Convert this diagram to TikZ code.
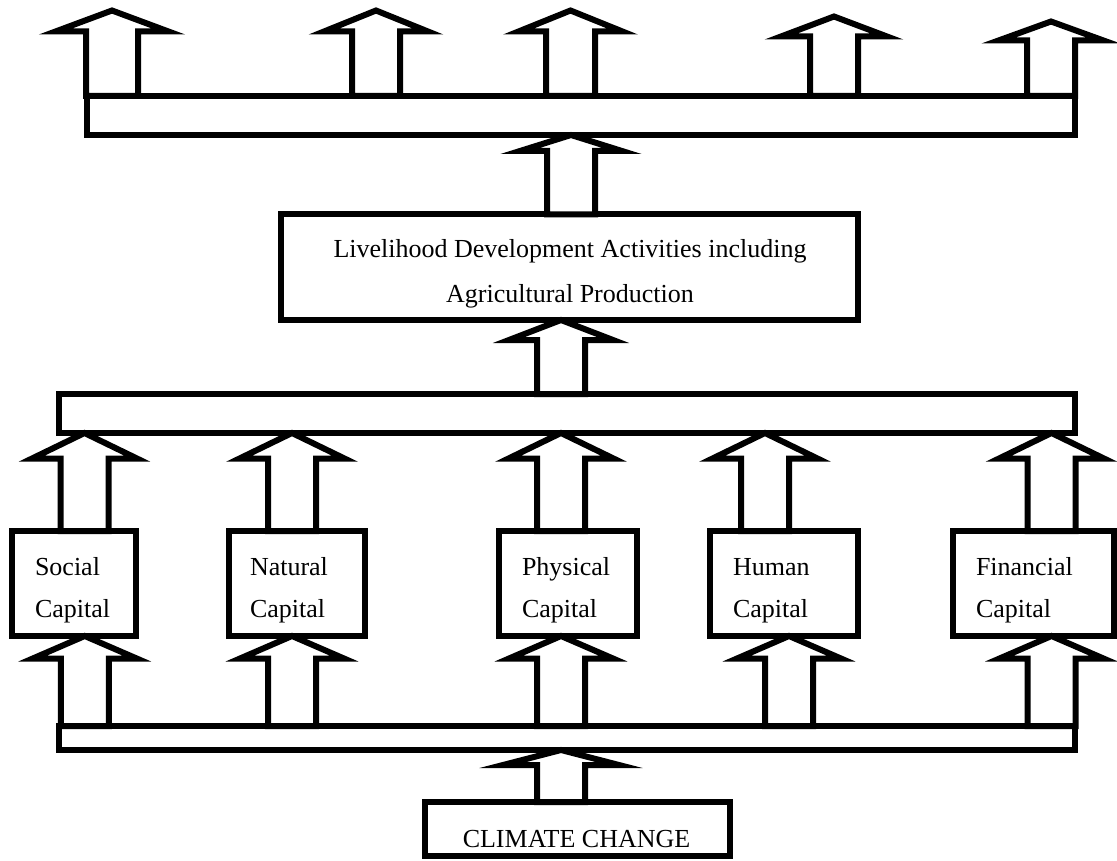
\documentclass[tikz,border=0pt]{standalone}
\usepackage{fontspec}
\setmainfont{Liberation Serif}
\usetikzlibrary{calc}
\tikzset{
  box/.style={draw=black, line width=6pt, inner sep=0pt, outer sep=0pt, fill=white},
  txt/.style={inner sep=0pt, outer sep=0pt, font=\fontsize{26}{30}\selectfont},
  blockarrow/.style={draw=black, fill=white, line width=6pt, line join=miter, miter limit=20}
}
% #1 tip, #2 shaft bottom, #3 head half-width, #4 head height, #5 shaft half-width
\newcommand{\blockup}[5]{%
  \draw[blockarrow] let \p1=#1, \p2=#2 in
    (\x1-#5pt,\y2) -- (\x1-#5pt,\y1-#4pt) -- (\x1-#3pt,\y1-#4pt) -- (\x1,\y1)
    -- (\x1+#3pt,\y1-#4pt) -- (\x1+#5pt,\y1-#4pt) -- (\x1+#5pt,\y2) -- cycle;}
\begin{document}
\begin{tikzpicture}[x=1pt,y=-1pt]
\useasboundingbox[fill=white] (0,0) rectangle (1117,861);
% bars and boxes
\node[box, minimum width=988.5pt, minimum height=39pt] (topbar) at (580.75,115.5) {};
\node[box, minimum width=577pt, minimum height=105.5pt] (liv) at (569.5,267.25) {};
\node[box, minimum width=1016pt, minimum height=39pt] (midbar) at (567,413.5) {};
\node[box, minimum width=124.5pt, minimum height=105pt] (social) at (73.75,583.5) {};
\node[box, minimum width=136pt, minimum height=105pt] (natural) at (297,583.5) {};
\node[box, minimum width=137.5pt, minimum height=105pt] (physical) at (567.75,583.5) {};
\node[box, minimum width=147.5pt, minimum height=105pt] (human) at (783.75,583.5) {};
\node[box, minimum width=161pt, minimum height=105pt] (financial) at (1033,583.5) {};
\node[box, minimum width=1016pt, minimum height=24pt] (lowbar) at (567,738) {};
\node[box, minimum width=304.5pt, minimum height=54pt] (climate) at (577.25,829) {};
% texts
\node[txt, anchor=base] (livA) at (570,258) {Livelihood Development Activities including};
\node[txt, anchor=base] (livB) at (570,302) {Agricultural Production};
\node[txt, anchor=base west] (socA) at (35,575) {Social};
\node[txt, anchor=base west] (socB) at (35,617) {Capital};
\node[txt, anchor=base west] (natA) at (250,575) {Natural};
\node[txt, anchor=base west] (natB) at (250,617) {Capital};
\node[txt, anchor=base west] (phyA) at (522,575) {Physical};
\node[txt, anchor=base west] (phyB) at (522,617) {Capital};
\node[txt, anchor=base west] (humA) at (733,575) {Human};
\node[txt, anchor=base west] (humB) at (733,617) {Capital};
\node[txt, anchor=base west] (finA) at (976,575) {Financial};
\node[txt, anchor=base west] (finB) at (976,617) {Capital};
\node[txt, anchor=base] (climA) at (576.5,847) {CLIMATE CHANGE};
% top free arrows
\coordinate (t1) at (112,10.5);
\coordinate (t2) at (376,10.5);
\coordinate (t3) at (570.5,10.5);
\coordinate (t4) at (834,16.5);
\coordinate (t5) at (1051,21.5);
\blockup{(t1)}{(t1 |- topbar.north)}{56.5}{21}{26}
\blockup{(t2)}{(t2 |- topbar.north)}{52}{21}{24}
\blockup{(t3)}{(t3 |- topbar.north)}{52}{21}{24.5}
\blockup{(t4)}{(t4 |- topbar.north)}{53}{20}{24}
\blockup{(t5)}{(t5 |- topbar.north)}{52.5}{19}{24}
% livelihood to top bar
\blockup{(571,0 |- topbar.south)}{(571,0 |- liv.north)}{51}{16}{24}
% middle bar to livelihood
\blockup{(561,0 |- liv.south)}{(561,0 |- midbar.north)}{52}{20}{24}
% capitals to middle bar
\blockup{(84.5,0 |- midbar.south)}{(84.5,0 |- social.north)}{52.5}{25.5}{24}
\blockup{(292,0 |- midbar.south)}{(292,0 |- natural.north)}{52.5}{25.5}{24}
\blockup{(561,0 |- midbar.south)}{(561,0 |- physical.north)}{52.5}{25.5}{24}
\blockup{(765,0 |- midbar.south)}{(765,0 |- human.north)}{52.5}{25.5}{24}
\blockup{(1051.5,0 |- midbar.south)}{(1051.5,0 |- financial.north)}{52.5}{25.5}{24}
% lower bar to capitals
\blockup{(84.75,0 |- social.south)}{(84.75,0 |- lowbar.north)}{52}{22.5}{24}
\blockup{(292,0 |- natural.south)}{(292,0 |- lowbar.north)}{52}{22.5}{24}
\blockup{(561,0 |- physical.south)}{(561,0 |- lowbar.north)}{52}{22.5}{24}
\blockup{(789,0 |- human.south)}{(789,0 |- lowbar.north)}{52}{22.5}{24}
\blockup{(1051.5,0 |- financial.south)}{(1051.5,0 |- lowbar.north)}{52}{22.5}{24}
% climate change to lower bar
\blockup{(561,0 |- lowbar.south)}{(561,0 |- climate.north)}{58}{15}{24}
\end{tikzpicture}
\end{document}
